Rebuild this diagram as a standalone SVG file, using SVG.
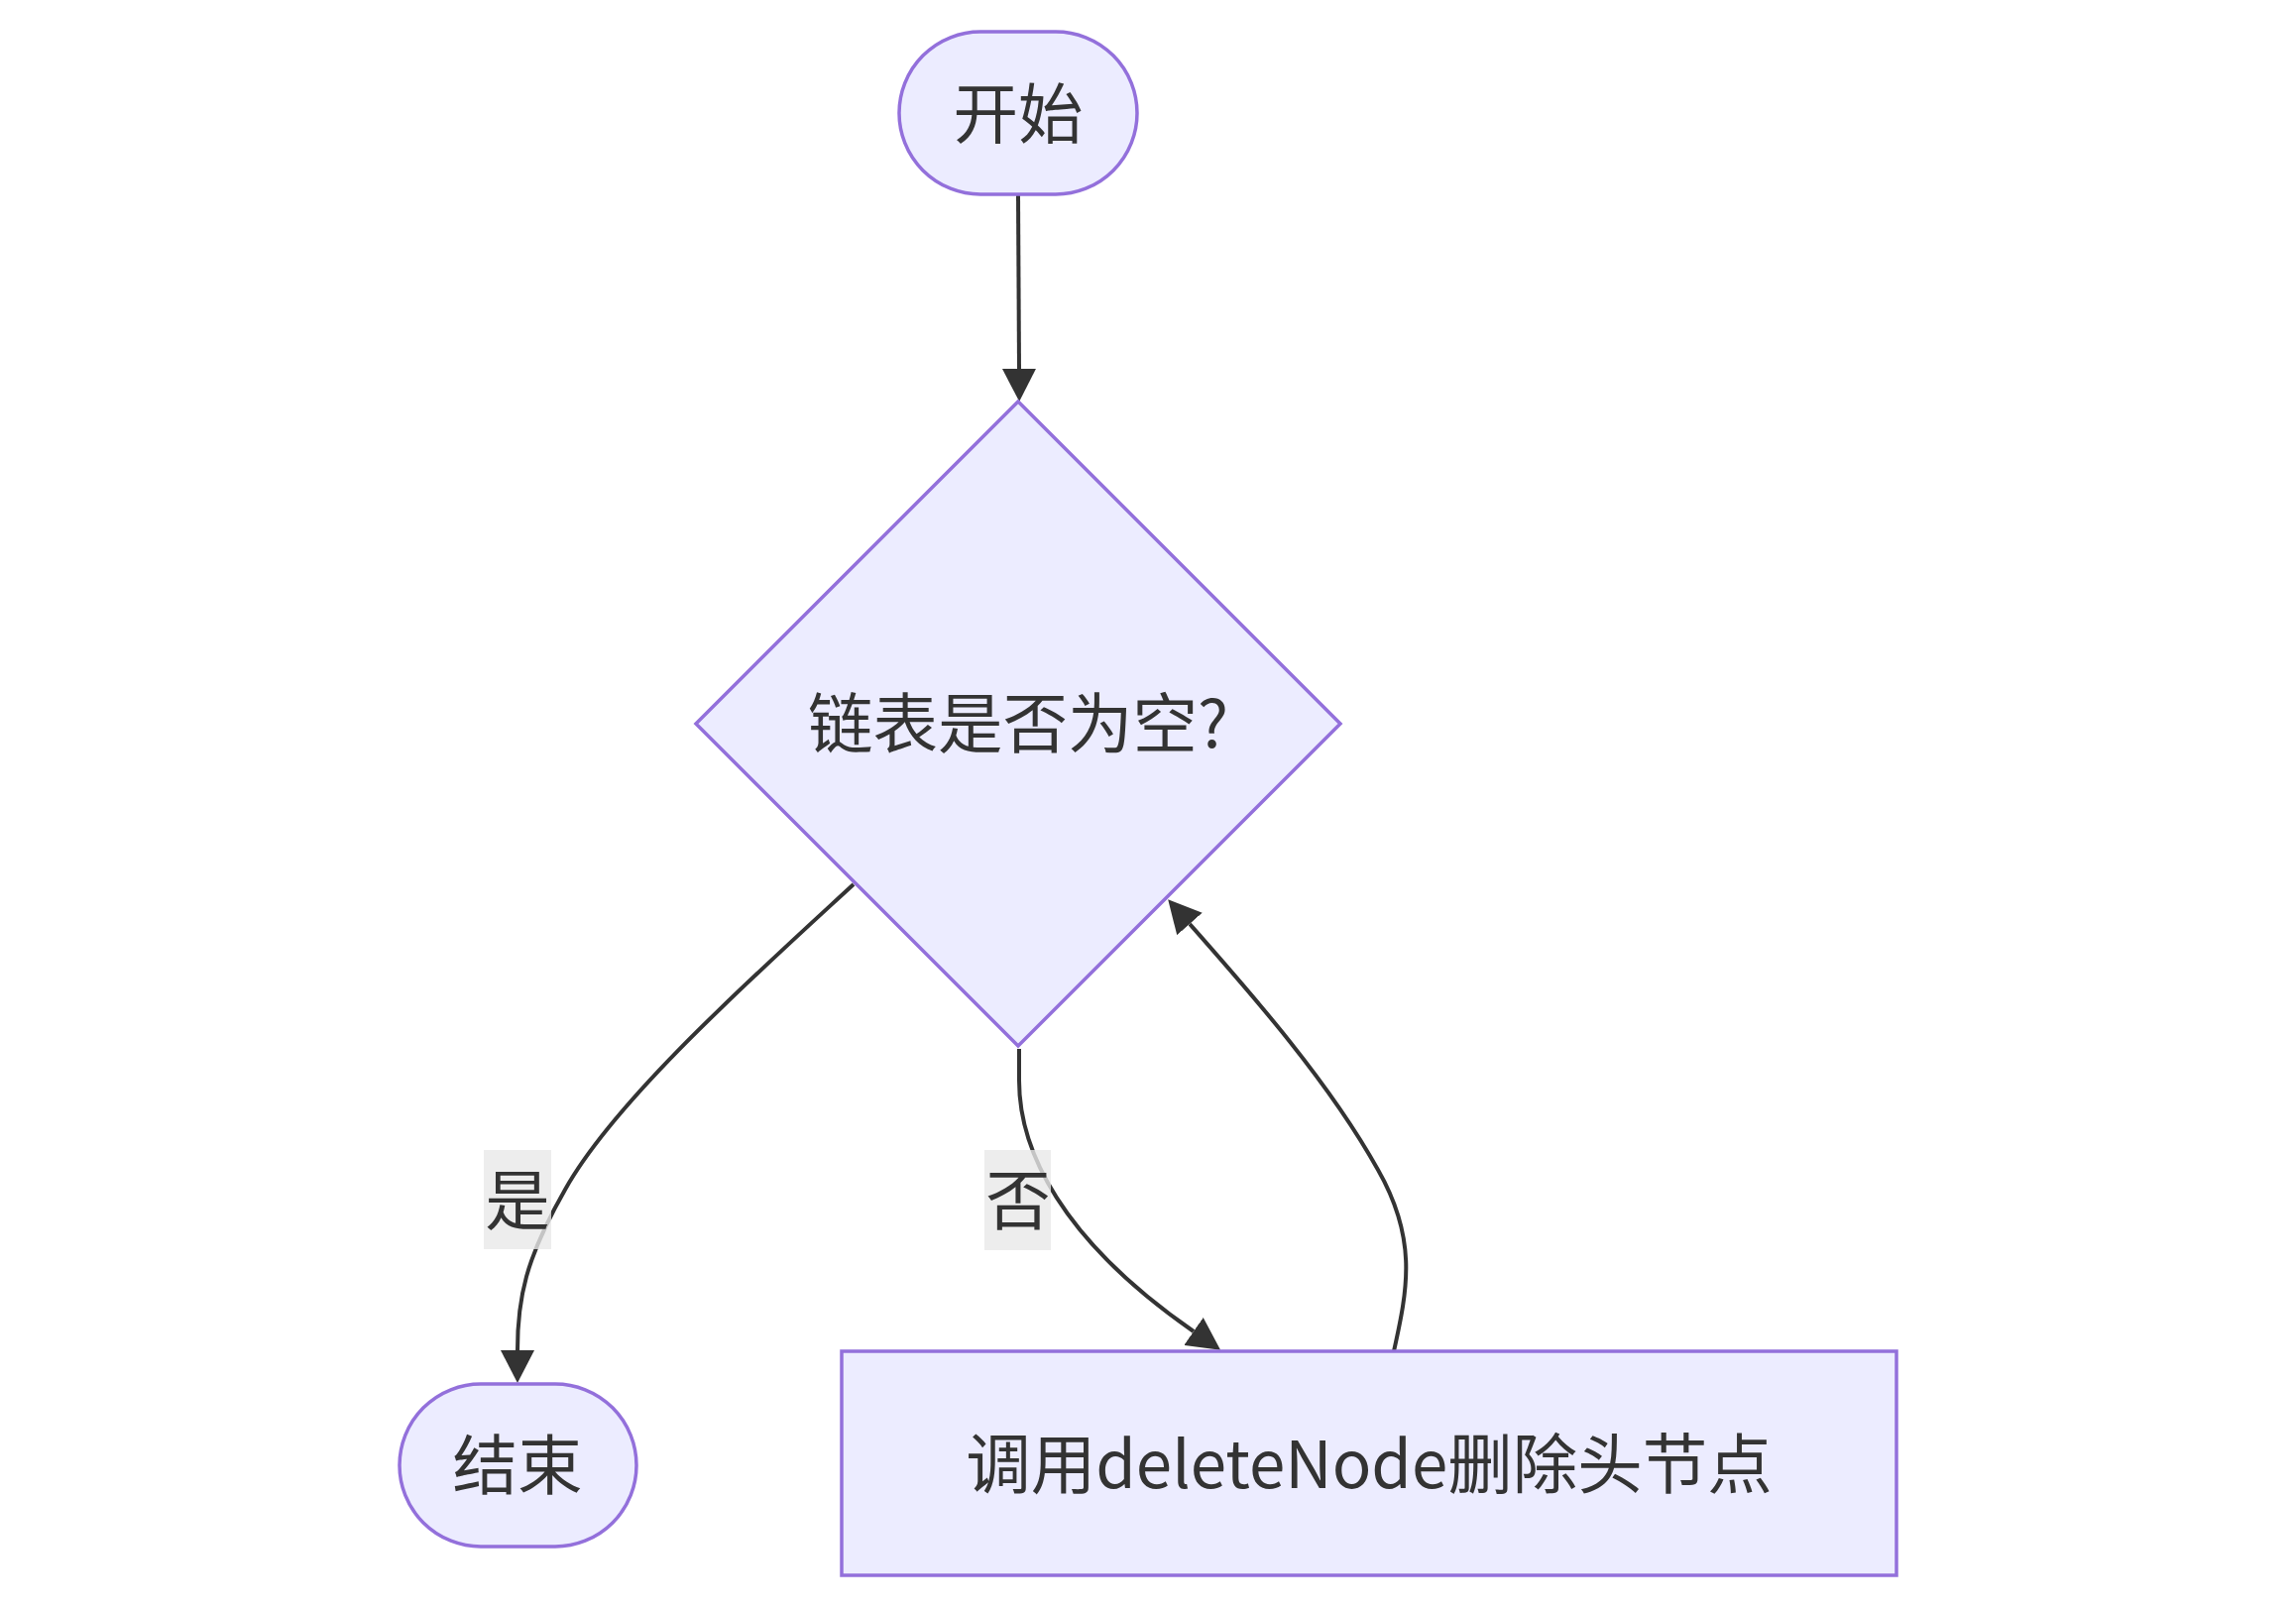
<svg xmlns="http://www.w3.org/2000/svg" width="2316" height="1624" viewBox="0 0 2316 1624">
<defs>
<style>
.node{fill:#ECECFF;stroke:#9370DB;stroke-width:3.5}
.t{font-family:"Noto Sans CJK SC","Noto Sans",sans-serif;font-size:65.5px;fill:#333333;text-anchor:middle}
.edge{fill:none;stroke:#333333;stroke-width:4}
.lbl{fill:rgba(232,232,232,0.8)}
</style>
<marker id="arrow" viewBox="0 0 10 10" refX="0" refY="5" markerUnits="userSpaceOnUse" markerWidth="33" markerHeight="34" preserveAspectRatio="none" orient="auto">
<path d="M0,0 L10,5 L0,10 z" fill="#333333"/>
</marker>
</defs>
<rect width="2316" height="1624" fill="#ffffff"/>
<g id="edges">
<path class="edge" d="M1027,197 L1028,372" marker-end="url(#arrow)"/>
<path class="edge" d="M861,892 C760,985 620,1110 570,1200 C530,1270 522,1310 522,1362" marker-end="url(#arrow)"/>
<path class="edge" d="M1028,1058 L1028,1090 C1028,1160 1070,1250 1204,1343" marker-end="url(#arrow)"/>
<path class="edge" d="M1406,1363 C1420,1300 1430,1250 1390,1180 C1340,1090 1260,1000 1200,932" marker-end="url(#arrow)"/>
</g>
<g id="node-start">
<rect class="node" x="907" y="32" width="240" height="164" rx="82" ry="82"/>
<text class="t" x="1027" y="139">开始</text>
</g>
<g id="node-check">
<polygon class="node" points="1027,405 1352,730 1027,1055 702,730"/>
<text class="t" x="1027" y="754">链表是否为空?</text>
</g>
<g id="node-end">
<rect class="node" x="403" y="1396" width="239" height="164" rx="82" ry="82"/>
<text class="t" x="522" y="1502">结束</text>
</g>
<g id="node-delete">
<rect class="node" x="849" y="1363" width="1064" height="226"/>
<text class="t" x="1381" y="1501">调用deleteNode删除头节点</text>
</g>
<g id="label-yes">
<rect class="lbl" x="488" y="1160" width="68" height="100"/>
<text class="t" x="522" y="1235">是</text>
</g>
<g id="label-no">
<rect class="lbl" x="993" y="1160" width="67" height="101"/>
<text class="t" x="1027" y="1235">否</text>
</g>
</svg>
